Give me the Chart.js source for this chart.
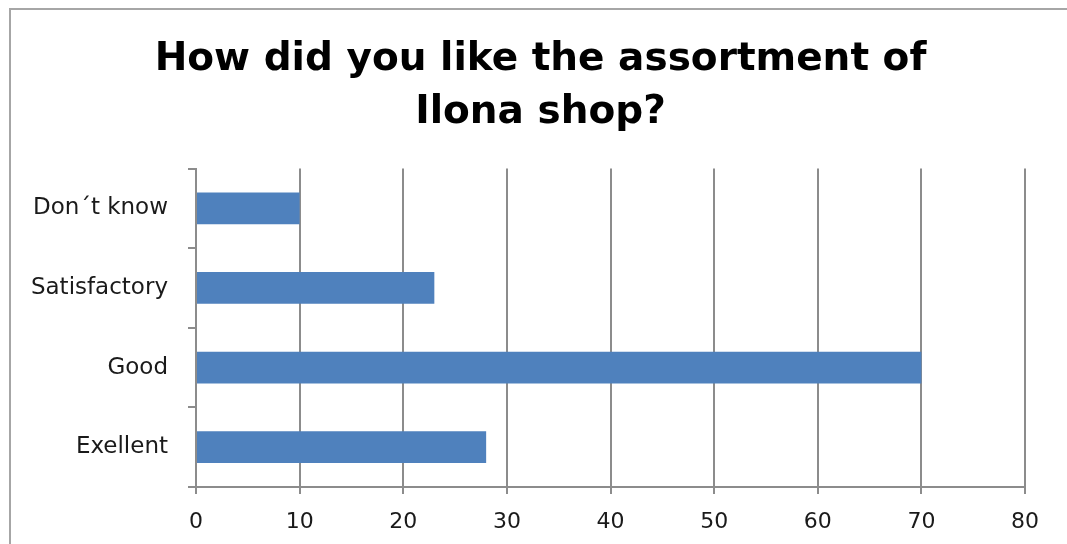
<!DOCTYPE html>
<html>
<head>
<meta charset="utf-8">
<script src="https://cdn.jsdelivr.net/npm/chart.js@4"></script>
<style>
  html, body { margin: 0; padding: 0; background: #fff; }
  #wrap { position: relative; width: 1067px; height: 544px; overflow: hidden; }
  #frame {
    position: absolute; left: 9px; top: 8px; width: 1080px; height: 560px;
    border-left: 2px solid #a6a6a6; border-top: 2px solid #a6a6a6;
  }
  canvas { position: absolute; left: 0; top: 0; }
</style>
</head>
<body>
<div id="wrap">
  <div id="frame"></div>
  <canvas id="chart" width="1067" height="544"></canvas>
</div>
<script>
// ─── Data ───
const categories = ['Don´t know', 'Satisfactory', 'Good', 'Exellent'];
const answers = [10, 23, 70, 28];
const titleLines = ['How did you like the assortment of', 'Ilona shop?'];

const GRID = '#8c8c8c';
const FONT = '"DejaVu Sans", Verdana, sans-serif';

// centre the title over the whole frame rather than the padded layout
const titleShift = {
    id: 'titleShift',
    afterLayout(chart) {
        const t = chart.titleBlock;
        if (!t) return;
        t.left += 18;
        t.right += 18;
    }
};

new Chart(document.getElementById('chart'), {
    type: 'bar',
    data: {
        labels: categories,
        datasets: [{
            data: answers,
            backgroundColor: '#4f81bd',
            borderWidth: 0,
            categoryPercentage: 0.8,
            barPercentage: 0.5
        }]
    },
    plugins: [titleShift],
    options: {
        indexAxis: 'y',
        responsive: false,
        animation: false,
        layout: { padding: { left: 20, right: 42, top: 0, bottom: 0 } },
        plugins: {
            legend: { display: false },
            tooltip: { enabled: false },
            title: {
                display: true,
                text: titleLines,
                color: '#000',
                font: { family: FONT, size: 39, weight: 'bold', lineHeight: 1.34 },
                padding: { top: 34, bottom: 30 }
            }
        },
        scales: {
            x: {
                min: 0,
                max: 80,
                ticks: {
                    stepSize: 10,
                    color: '#1a1a1a',
                    padding: 15,
                    font: { family: FONT, size: 22 }
                },
                grid: { color: GRID, lineWidth: 2, tickLength: 7 },
                border: { color: GRID, width: 2 },
                afterFit: s => { s.height = 57; }
            },
            y: {
                ticks: {
                    color: '#1a1a1a',
                    padding: 20,
                    font: { family: FONT, size: 23 }
                },
                grid: { drawOnChartArea: false, color: GRID, lineWidth: 2, tickLength: 8 },
                border: { color: GRID, width: 2 },
                afterFit: s => { s.width = 176; }
            }
        }
    }
});
</script>
</body>
</html>
